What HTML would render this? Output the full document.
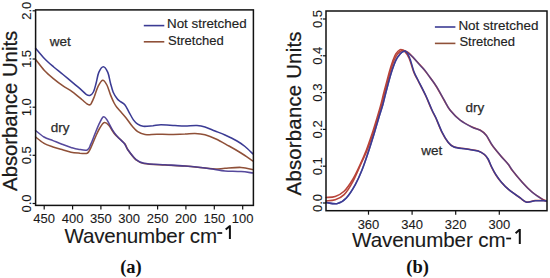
<!DOCTYPE html>
<html><head><meta charset="utf-8"><style>
html,body{margin:0;padding:0;background:#fff;width:550px;height:278px;overflow:hidden}
svg{display:block}
text{font-family:"Liberation Sans",sans-serif;fill:#1a1a1a;stroke:#1a1a1a;stroke-width:0.25px}
.tk{font-size:13px;stroke-width:0.1px}
.lg{font-size:13px;fill:#222;stroke:#222;stroke-width:0.15px}
.an{font-size:13.5px;fill:#333}
.yt{font-size:20.3px}
.xt{font-size:20.6px;stroke-width:0.1px}
.xs{font-size:19.9px}
.pl{font-family:"Liberation Serif",serif;font-weight:bold;font-size:18.5px;fill:#111;stroke:none}
</style></head><body>
<svg width="550" height="278" viewBox="0 0 550 278">
<path d="M35.6,137.0 C37.0,138.1 41.1,141.7 44.0,143.3 C46.9,145.0 50.0,145.9 53.0,146.9 C56.0,147.9 59.0,148.7 62.0,149.6 C65.0,150.5 68.0,151.7 71.0,152.3 C74.0,152.9 77.3,153.0 80.0,153.2 C82.7,153.3 85.4,154.1 87.2,153.2 C89.0,152.3 89.3,150.8 90.8,147.8 C92.3,144.8 94.7,138.5 96.2,135.2 C97.7,131.9 98.5,130.1 99.8,128.0 C101.1,125.9 102.8,123.0 104.3,122.6 C105.8,122.1 107.1,123.5 108.8,125.3 C110.5,127.1 112.4,131.2 114.2,133.4 C116.0,135.7 117.8,137.0 119.6,138.8 C121.4,140.6 123.6,142.1 125.0,144.0 C126.4,145.9 126.2,147.4 128.0,150.0 C129.8,152.6 133.2,157.3 135.8,159.6 C138.5,161.8 139.0,162.6 143.9,163.5 C148.8,164.4 158.2,164.6 165.0,165.0 C171.8,165.4 178.3,165.5 185.0,166.0 C191.7,166.5 200.0,167.5 205.0,168.0 C210.0,168.5 211.7,168.9 215.0,169.0 C218.3,169.1 220.7,168.6 225.0,168.3 C229.3,168.0 236.3,167.2 241.0,167.4 C245.7,167.6 251.0,169.2 253.0,169.6" fill="none" stroke="#8f5038" stroke-width="1.55" stroke-opacity="1" stroke-linejoin="round" stroke-linecap="round"/>
<path d="M35.6,130.5 C37.0,131.6 41.1,135.3 44.0,137.0 C46.9,138.7 50.0,139.4 53.0,140.6 C56.0,141.8 59.0,143.1 62.0,144.2 C65.0,145.3 68.3,146.6 71.0,147.4 C73.7,148.2 75.5,148.8 78.2,149.2 C80.9,149.6 85.1,150.8 87.2,150.0 C89.3,149.2 89.6,146.7 90.8,144.2 C92.0,141.7 93.1,138.5 94.4,135.2 C95.8,131.9 97.4,127.5 98.9,124.4 C100.4,121.3 102.1,117.5 103.4,116.8 C104.8,116.0 105.5,117.7 107.0,119.9 C108.5,122.1 110.6,127.0 112.4,129.8 C114.2,132.7 115.8,134.8 117.8,137.0 C119.8,139.2 122.4,141.2 124.1,143.3 C125.8,145.4 125.8,146.8 127.7,149.5 C129.7,152.2 133.1,157.0 135.8,159.3 C138.5,161.6 139.0,162.4 143.9,163.3 C148.8,164.2 158.2,164.4 165.0,164.8 C171.8,165.2 178.3,165.5 185.0,166.0 C191.7,166.5 200.0,167.4 205.0,168.0 C210.0,168.6 211.7,169.0 215.0,169.5 C218.3,170.0 220.7,170.7 225.0,171.0 C229.3,171.3 236.3,171.3 241.0,171.6 C245.7,171.9 251.0,172.8 253.0,173.0" fill="none" stroke="#483a94" stroke-width="1.55" stroke-opacity="0.92" stroke-linejoin="round" stroke-linecap="round"/>
<path d="M35.6,59.5 C37.1,61.3 41.4,67.3 44.4,70.5 C47.4,73.7 50.6,76.3 53.7,78.9 C56.8,81.5 59.9,83.8 63.0,85.9 C66.1,88.1 69.3,89.5 72.4,91.8 C75.5,94.1 79.3,97.4 81.8,99.5 C84.3,101.6 86.0,103.4 87.5,104.2 C89.0,105.0 89.6,105.5 90.7,104.3 C91.8,103.0 93.1,99.6 94.3,96.7 C95.5,93.8 96.5,89.5 97.9,86.8 C99.3,84.1 101.1,80.6 102.6,80.3 C104.1,80.0 105.6,82.6 106.9,85.0 C108.2,87.4 109.3,91.9 110.5,94.9 C111.7,97.9 113.0,100.9 114.1,103.0 C115.2,105.1 115.9,106.1 117.0,107.5 C118.1,108.9 119.0,109.8 120.5,111.5 C122.0,113.2 123.9,115.2 125.9,117.7 C127.9,120.2 130.3,124.0 132.3,126.3 C134.3,128.6 135.6,130.3 137.7,131.7 C139.8,133.1 141.8,134.2 145.0,134.6 C148.2,135.0 153.0,134.2 157.0,134.2 C161.0,134.2 164.3,134.5 169.0,134.5 C173.7,134.5 180.7,134.2 185.0,134.1 C189.3,133.9 191.7,133.5 195.0,133.6 C198.3,133.7 201.5,133.9 205.0,134.8 C208.5,135.7 212.0,137.1 216.0,139.0 C220.0,140.9 224.8,143.7 229.0,146.0 C233.2,148.3 237.0,150.5 241.0,153.0 C245.0,155.5 251.0,159.7 253.0,161.0" fill="none" stroke="#8f5038" stroke-width="1.55" stroke-opacity="1" stroke-linejoin="round" stroke-linecap="round"/>
<path d="M35.6,48.3 C37.1,50.0 41.4,55.4 44.4,58.5 C47.4,61.6 50.6,64.3 53.7,67.0 C56.8,69.7 59.9,71.9 63.0,74.5 C66.1,77.1 69.3,79.8 72.4,82.4 C75.5,85.0 79.5,88.3 81.8,90.3 C84.1,92.3 85.2,93.8 86.5,94.6 C87.8,95.4 88.6,95.8 89.8,95.4 C91.0,95.0 92.4,94.0 93.4,92.0 C94.5,90.0 95.2,86.5 96.1,83.2 C97.0,79.9 97.6,75.1 98.8,72.4 C100.0,69.7 101.8,66.8 103.3,66.8 C104.8,66.8 106.6,69.7 107.8,72.4 C109.0,75.1 109.6,79.9 110.5,83.2 C111.4,86.5 112.1,89.6 113.2,92.2 C114.3,94.8 116.0,97.2 117.2,98.8 C118.4,100.4 119.2,100.6 120.5,101.6 C121.8,102.6 123.4,103.0 124.8,104.8 C126.2,106.6 127.7,109.8 129.1,112.3 C130.5,114.8 132.0,117.9 133.4,119.9 C134.8,121.9 136.1,123.1 137.7,124.2 C139.3,125.3 140.5,126.0 143.1,126.3 C145.7,126.6 150.0,126.0 153.0,125.8 C156.0,125.5 157.3,124.8 161.0,124.8 C164.7,124.8 171.0,125.4 175.0,125.6 C179.0,125.8 181.3,126.0 185.0,126.0 C188.7,126.0 193.7,125.4 197.0,125.6 C200.3,125.8 202.0,126.1 205.0,127.0 C208.0,127.9 211.7,129.7 215.0,131.0 C218.3,132.3 221.3,133.3 225.0,135.0 C228.7,136.7 233.7,139.1 237.0,141.0 C240.3,142.9 242.3,144.3 245.0,146.5 C247.7,148.7 251.7,152.8 253.0,154.0" fill="none" stroke="#3b3b94" stroke-width="1.55" stroke-opacity="1" stroke-linejoin="round" stroke-linecap="round"/>
<path d="M326.2,197.5 C327.7,197.3 332.2,197.4 335.2,196.4 C338.2,195.4 341.1,194.2 344.1,191.3 C347.1,188.4 350.4,183.3 353.0,179.0 C355.6,174.7 357.5,170.4 359.7,165.6 C361.9,160.8 364.3,155.3 366.4,150.0 C368.4,144.7 370.2,139.3 372.0,134.0 C373.8,128.7 375.6,122.7 377.0,118.0 C378.4,113.3 379.3,110.3 380.5,106.0 C381.7,101.7 382.5,97.7 384.0,92.0 C385.5,86.3 387.9,77.1 389.3,72.0 C390.7,66.9 391.5,64.4 392.6,61.4 C393.7,58.4 394.6,55.9 395.8,53.9 C397.1,51.9 398.8,50.2 400.1,49.6 C401.5,49.0 402.5,49.9 403.9,50.4 C405.3,50.9 406.8,51.2 408.7,52.8 C410.6,54.4 412.8,57.3 415.2,59.8 C417.6,62.3 420.5,65.2 422.8,67.9 C425.1,70.6 426.7,72.9 428.9,75.9 C431.1,78.9 433.5,82.0 436.0,86.0 C438.5,90.0 441.7,96.0 444.0,100.0 C446.3,104.0 447.3,106.7 450.0,110.0 C452.7,113.3 456.3,117.2 460.0,120.0 C463.7,122.8 468.7,125.3 472.0,127.0 C475.3,128.7 477.7,128.7 480.0,130.0 C482.3,131.3 484.0,132.5 486.0,135.0 C488.0,137.5 489.7,141.7 492.0,145.0 C494.3,148.3 497.3,151.8 500.0,155.0 C502.7,158.2 506.0,161.5 508.0,164.0 C510.0,166.5 509.7,167.0 512.0,170.0 C514.3,173.0 518.7,178.3 522.0,182.0 C525.3,185.7 528.7,189.2 532.0,192.0 C535.3,194.8 539.7,197.5 542.0,199.0 C544.3,200.5 545.3,200.7 546.0,201.0" fill="none" stroke="#b8443a" stroke-width="1.55" stroke-opacity="1" stroke-linejoin="round" stroke-linecap="round"/>
<path d="M326.2,202.5 C328.1,202.7 334.0,204.3 337.4,203.6 C340.8,202.8 343.3,201.2 346.3,198.0 C349.3,194.8 352.7,189.3 355.3,184.6 C357.9,179.9 360.0,175.0 362.0,170.0 C364.0,165.0 365.5,160.5 367.5,154.5 C369.5,148.5 372.1,140.2 374.0,134.0 C375.9,127.8 377.5,122.0 379.0,117.0 C380.5,112.0 381.8,108.5 383.0,104.0 C384.2,99.5 385.1,95.3 386.5,90.0 C387.9,84.7 389.9,77.0 391.5,72.0 C393.1,67.0 394.4,63.3 395.8,60.3 C397.2,57.3 398.8,55.4 400.1,53.9 C401.5,52.4 402.8,51.5 403.9,51.2 C405.0,50.9 405.1,51.2 406.6,52.2 C408.1,53.2 410.9,55.0 413.0,57.1 C415.1,59.2 417.5,62.5 419.5,64.7 C421.5,66.9 423.3,68.5 425.0,70.5 C426.7,72.5 427.6,74.1 429.5,76.8 C431.4,79.5 433.9,82.5 436.4,86.4 C438.9,90.3 442.1,96.4 444.4,100.4 C446.7,104.4 447.7,107.1 450.4,110.4 C453.1,113.7 456.7,117.6 460.4,120.4 C464.1,123.2 469.1,125.7 472.4,127.4 C475.7,129.1 478.1,129.1 480.4,130.4 C482.7,131.7 484.4,132.9 486.4,135.4 C488.4,137.9 490.1,142.1 492.4,145.4 C494.7,148.7 497.7,152.2 500.4,155.4 C503.1,158.6 506.4,161.9 508.4,164.4 C510.4,166.9 510.1,167.4 512.4,170.4 C514.7,173.4 519.1,178.7 522.4,182.4 C525.7,186.1 529.1,189.6 532.4,192.4 C535.7,195.2 540.1,197.9 542.4,199.4 C544.7,200.9 545.7,201.1 546.4,201.4" fill="none" stroke="#3b3b94" stroke-width="1.55" stroke-opacity="0.7" stroke-linejoin="round" stroke-linecap="round"/>
<path d="M326.2,200.9 C327.7,200.7 332.2,200.9 335.2,199.8 C338.2,198.8 341.1,197.7 344.1,194.6 C347.1,191.5 350.4,186.1 353.0,181.3 C355.6,176.5 357.7,171.1 360.0,166.0 C362.3,160.9 364.7,156.2 366.8,151.0 C368.9,145.8 370.7,140.3 372.5,135.0 C374.3,129.7 376.1,123.7 377.5,119.0 C378.9,114.3 379.8,111.3 381.0,107.0 C382.2,102.7 383.1,98.8 384.6,93.0 C386.1,87.2 388.6,77.4 390.2,72.0 C391.8,66.6 392.8,63.5 394.0,60.5 C395.2,57.5 396.2,55.6 397.5,54.0 C398.8,52.4 400.3,51.3 401.5,50.8 C402.7,50.3 403.2,49.9 404.5,51.2 C405.8,52.5 407.7,55.0 409.2,58.5 C410.7,62.0 412.3,68.4 413.7,72.0 C415.1,75.6 415.7,76.0 417.7,80.0 C419.7,84.0 423.4,90.8 425.7,95.8 C428.0,100.8 430.0,106.1 431.7,109.8 C433.4,113.5 434.0,114.1 435.7,117.8 C437.4,121.5 439.7,127.8 441.7,131.8 C443.7,135.8 445.7,139.3 447.7,141.8 C449.7,144.3 450.7,145.6 453.7,146.8 C456.7,148.0 461.7,148.1 465.7,148.8 C469.7,149.5 474.6,149.9 477.7,150.8 C480.8,151.7 482.5,153.0 484.2,154.3 C485.9,155.6 486.6,156.7 487.8,158.8 C489.0,160.9 490.0,164.1 491.4,166.8 C492.8,169.5 494.2,172.4 495.9,175.0 C497.5,177.6 499.2,179.8 501.3,182.2 C503.4,184.6 505.4,186.9 508.5,189.4 C511.6,191.9 516.6,195.4 519.6,197.5 C522.6,199.6 523.7,201.5 526.3,202.0 C528.9,202.5 532.0,200.8 535.2,200.6 C538.4,200.4 544.0,200.6 545.7,200.6" fill="none" stroke="#b8443a" stroke-width="1.55" stroke-opacity="1" stroke-linejoin="round" stroke-linecap="round"/>
<path d="M326.2,202.5 C328.1,202.7 334.0,204.3 337.4,203.6 C340.8,202.8 343.3,201.2 346.3,198.0 C349.3,194.8 352.7,189.3 355.3,184.6 C357.9,179.9 360.0,175.0 362.0,170.0 C364.0,165.0 365.5,160.5 367.5,154.5 C369.5,148.5 372.1,140.2 374.0,134.0 C375.9,127.8 377.5,122.0 379.0,117.0 C380.5,112.0 381.8,108.5 383.0,104.0 C384.2,99.5 385.1,95.3 386.5,90.0 C387.9,84.7 389.9,77.0 391.5,72.0 C393.1,67.0 394.4,63.3 395.8,60.3 C397.2,57.3 398.8,55.4 400.1,53.9 C401.5,52.4 402.8,51.5 403.9,51.2 C405.0,50.9 405.6,51.0 406.6,52.2 C407.6,53.4 408.6,54.9 409.8,58.2 C411.1,61.5 412.7,68.4 414.1,72.0 C415.5,75.6 416.0,76.0 418.0,80.0 C420.0,84.0 423.7,91.0 426.0,96.0 C428.3,101.0 430.3,106.3 432.0,110.0 C433.7,113.7 434.3,114.3 436.0,118.0 C437.7,121.7 440.0,128.0 442.0,132.0 C444.0,136.0 446.0,139.5 448.0,142.0 C450.0,144.5 451.0,145.8 454.0,147.0 C457.0,148.2 462.0,148.3 466.0,149.0 C470.0,149.7 474.9,150.1 478.0,151.0 C481.1,151.9 482.8,153.2 484.5,154.5 C486.2,155.8 486.9,156.9 488.1,159.0 C489.3,161.1 490.4,164.3 491.7,167.0 C493.0,169.7 494.5,172.6 496.2,175.2 C497.9,177.8 499.5,180.0 501.6,182.4 C503.7,184.8 505.8,187.1 508.8,189.6 C511.9,192.1 516.9,195.6 519.9,197.7 C522.9,199.8 524.0,201.7 526.6,202.2 C529.2,202.7 532.3,201.0 535.5,200.8 C538.7,200.6 544.2,200.8 546.0,200.8" fill="none" stroke="#3b3b94" stroke-width="1.55" stroke-opacity="1" stroke-linejoin="round" stroke-linecap="round"/>
<rect x="35.6" y="9.9" width="217.8" height="195.5" fill="none" stroke="#111" stroke-width="1.5"/>
<rect x="326.0" y="11.0" width="221.0" height="199.7" fill="none" stroke="#111" stroke-width="1.5"/>
<line x1="44.2" y1="205.4" x2="44.2" y2="209.4" stroke="#111" stroke-width="1.2"/>
<text x="44.2" y="222.8" text-anchor="middle" class="tk">450</text>
<line x1="72.6" y1="205.4" x2="72.6" y2="209.4" stroke="#111" stroke-width="1.2"/>
<text x="72.6" y="222.8" text-anchor="middle" class="tk">400</text>
<line x1="100.9" y1="205.4" x2="100.9" y2="209.4" stroke="#111" stroke-width="1.2"/>
<text x="100.9" y="222.8" text-anchor="middle" class="tk">350</text>
<line x1="129.2" y1="205.4" x2="129.2" y2="209.4" stroke="#111" stroke-width="1.2"/>
<text x="129.2" y="222.8" text-anchor="middle" class="tk">300</text>
<line x1="157.6" y1="205.4" x2="157.6" y2="209.4" stroke="#111" stroke-width="1.2"/>
<text x="157.6" y="222.8" text-anchor="middle" class="tk">250</text>
<line x1="185.9" y1="205.4" x2="185.9" y2="209.4" stroke="#111" stroke-width="1.2"/>
<text x="185.9" y="222.8" text-anchor="middle" class="tk">200</text>
<line x1="214.3" y1="205.4" x2="214.3" y2="209.4" stroke="#111" stroke-width="1.2"/>
<text x="214.3" y="222.8" text-anchor="middle" class="tk">150</text>
<line x1="242.7" y1="205.4" x2="242.7" y2="209.4" stroke="#111" stroke-width="1.2"/>
<text x="242.7" y="222.8" text-anchor="middle" class="tk">100</text>
<line x1="32.6" y1="203.5" x2="35.6" y2="203.5" stroke="#111" stroke-width="1.2"/>
<text transform="translate(30.8,203.5) rotate(-90)" text-anchor="middle" class="tk">0.0</text>
<line x1="32.6" y1="155.3" x2="35.6" y2="155.3" stroke="#111" stroke-width="1.2"/>
<text transform="translate(30.8,155.3) rotate(-90)" text-anchor="middle" class="tk">0.5</text>
<line x1="32.6" y1="107.2" x2="35.6" y2="107.2" stroke="#111" stroke-width="1.2"/>
<text transform="translate(30.8,107.2) rotate(-90)" text-anchor="middle" class="tk">1.0</text>
<line x1="32.6" y1="59.0" x2="35.6" y2="59.0" stroke="#111" stroke-width="1.2"/>
<text transform="translate(30.8,59.0) rotate(-90)" text-anchor="middle" class="tk">1.5</text>
<line x1="32.6" y1="10.8" x2="35.6" y2="10.8" stroke="#111" stroke-width="1.2"/>
<text transform="translate(30.8,10.8) rotate(-90)" text-anchor="middle" class="tk">2.0</text>
<line x1="368.5" y1="210.7" x2="368.5" y2="214.7" stroke="#111" stroke-width="1.2"/>
<text x="368.5" y="228.6" text-anchor="middle" class="tk">360</text>
<line x1="412.1" y1="210.7" x2="412.1" y2="214.7" stroke="#111" stroke-width="1.2"/>
<text x="412.1" y="228.6" text-anchor="middle" class="tk">340</text>
<line x1="455.7" y1="210.7" x2="455.7" y2="214.7" stroke="#111" stroke-width="1.2"/>
<text x="455.7" y="228.6" text-anchor="middle" class="tk">320</text>
<line x1="499.3" y1="210.7" x2="499.3" y2="214.7" stroke="#111" stroke-width="1.2"/>
<text x="499.3" y="228.6" text-anchor="middle" class="tk">300</text>
<line x1="323.0" y1="203.0" x2="326.0" y2="203.0" stroke="#111" stroke-width="1.2"/>
<text transform="translate(321.6,203.0) rotate(-90)" text-anchor="middle" class="tk">0.0</text>
<line x1="323.0" y1="166.2" x2="326.0" y2="166.2" stroke="#111" stroke-width="1.2"/>
<text transform="translate(321.6,166.2) rotate(-90)" text-anchor="middle" class="tk">0.1</text>
<line x1="323.0" y1="129.4" x2="326.0" y2="129.4" stroke="#111" stroke-width="1.2"/>
<text transform="translate(321.6,129.4) rotate(-90)" text-anchor="middle" class="tk">0.2</text>
<line x1="323.0" y1="92.6" x2="326.0" y2="92.6" stroke="#111" stroke-width="1.2"/>
<text transform="translate(321.6,92.6) rotate(-90)" text-anchor="middle" class="tk">0.3</text>
<line x1="323.0" y1="55.8" x2="326.0" y2="55.8" stroke="#111" stroke-width="1.2"/>
<text transform="translate(321.6,55.8) rotate(-90)" text-anchor="middle" class="tk">0.4</text>
<line x1="323.0" y1="19.0" x2="326.0" y2="19.0" stroke="#111" stroke-width="1.2"/>
<text transform="translate(321.6,19.0) rotate(-90)" text-anchor="middle" class="tk">0.5</text>
<line x1="143.8" y1="25.6" x2="164.3" y2="25.6" stroke="#3b3b94" stroke-width="1.6"/><line x1="143.8" y1="41.8" x2="164.3" y2="41.8" stroke="#8f5038" stroke-width="1.6"/><text x="167.0" y="27.9" class="lg" textLength="79.6" lengthAdjust="spacingAndGlyphs">Not stretched</text><text x="168.0" y="44.6" class="lg">Stretched</text>
<line x1="434.9" y1="27.0" x2="455.4" y2="27.0" stroke="#3b3b94" stroke-width="1.6"/><line x1="434.9" y1="43.4" x2="455.4" y2="43.4" stroke="#8f5038" stroke-width="1.6"/><text x="458.4" y="29.6" class="lg" textLength="80.0" lengthAdjust="spacingAndGlyphs">Not stretched</text><text x="459.4" y="46.4" class="lg">Stretched</text>
<text x="49.7" y="45.5" class="an">wet</text>
<text x="50.8" y="132" class="an">dry</text>
<text x="465.6" y="112.4" class="an">dry</text>
<text x="421.2" y="154.6" class="an">wet</text>
<text transform="translate(17.0,190.9) rotate(-90)" class="yt" letter-spacing="0">Absorbance Units</text>
<text transform="translate(301.2,195.4) rotate(-90)" class="yt" letter-spacing="0.25">Absorbance Units</text>
<text x="64.4" y="242.7" class="xt" textLength="152.7" lengthAdjust="spacing">Wavenumber cm</text><line x1="217.3" y1="233.0" x2="222.2" y2="233.0" stroke="#111" stroke-width="1.7"/><path d="M229.9,225.3 L229.9,238.9 M229.9,225.9 L225.7,229.5" stroke="#111" stroke-width="2" fill="none"/>
<text x="352.1" y="247.2" class="xt" textLength="153.5" lengthAdjust="spacing">Wavenumber cm</text><line x1="506.2" y1="238.5" x2="511.1" y2="238.5" stroke="#111" stroke-width="1.7"/><path d="M519.8,229.0 L519.8,243.9 M519.8,229.6 L515.6,233.2" stroke="#111" stroke-width="2" fill="none"/>
<text x="131" y="272.5" text-anchor="middle" class="pl">(a)</text>
<text x="417.6" y="272.5" text-anchor="middle" class="pl">(b)</text>
</svg>
</body></html>
